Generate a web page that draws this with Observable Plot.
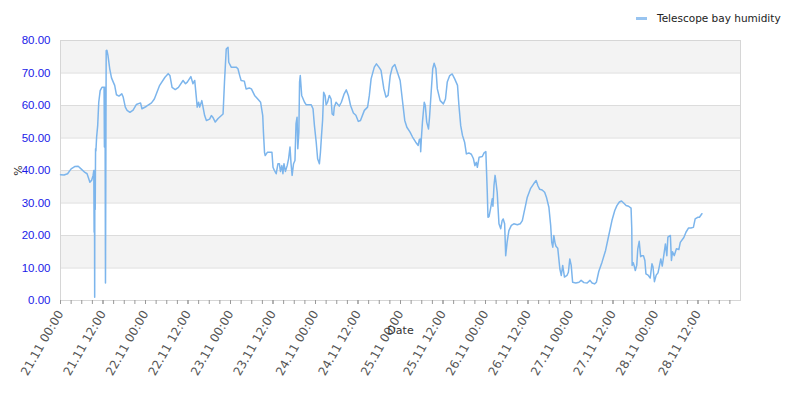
<!DOCTYPE html>
<html>
<head>
<meta charset="utf-8">
<script src="https://cdn.jsdelivr.net/npm/d3@7"></script>
<script src="https://cdn.jsdelivr.net/npm/@observablehq/plot@0.6"></script>
<style>
  html, body { margin: 0; padding: 0; background: #fff; }
  #wrap { position: relative; width: 800px; height: 400px; font-family: "DejaVu Sans", sans-serif; }
  #legend { position: absolute; top: 12px; left: 636px; font-size: 10.5px; color: #222; display: flex; align-items: center; }
  #legend .sw { width: 11px; height: 3px; background: #98c4f0; margin-right: 10px; }
  g[aria-label="y-axis label"], g[aria-label="x-axis label"] { fill: #333; }
  g[aria-label="y-axis label"] text, g[aria-label="x-axis label"] text { fill: #333; font-size: 11px; font-family: "DejaVu Sans", sans-serif; }
</style>
</head>
<body>
<div id="wrap">
  <div id="chart"></div>
  <div id="legend"><span class="sw"></span><span>Telescope bay humidity</span></div>
</div>
<script>
// Series: hours since 21.11 00:00 and humidity in %
const seriesName = "Telescope bay humidity";
const hours = [
  0,1,2,3,4,5,5.8,6.9,7.5,8,
  8.3,8.8,9.2,9.4,9.5,9.55,9.6,9.65,9.7,9.8,
  9.9,10,10.2,10.5,10.8,11.2,11.7,12.3,12.4,12.5,
  12.6,12.7,12.8,12.9,13.1,13.4,13.9,14.4,14.9,15.3,
  15.8,16.5,17.3,17.7,18.3,18.8,19.6,20.5,21.4,22.6,
  23,24.2,25.7,26.5,28,29.5,30.4,30.9,31.5,32.4,
  33.3,34.6,35.3,35.8,36.8,37.4,37.9,38.3,38.6,39,
  39.3,39.9,40.7,41.2,42.1,42.6,43,43.7,44.5,45.9,
  46.3,46.8,47.3,47.5,48.2,49.6,50.1,50.6,51,51.9,
  52.4,53.3,53.9,54.8,55.7,56.5,57.1,57.3,57.6,57.8,
  58.4,59.7,60,60.4,60.9,61.4,61.8,62.1,62.5,62.8,
  63.1,63.5,64,64.4,64.8,65.1,65.4,65.8,66.2,66.5,
  66.8,67,67.3,67.5,67.7,68.1,68.9,69.4,70.8,71.3,
  71.7,72.2,72.6,73.1,73.4,73.7,74,74.3,74.7,75,
  75.4,75.9,76.4,76.7,77.1,77.3,77.8,78.7,79.3,80.1,
  80.7,81.3,81.9,82.7,83.4,84.1,84.7,85.8,86.7,87.2,
  87.7,88.6,89.2,89.9,90.5,91.3,91.9,92.5,93.1,93.7,
  94.4,95.1,95.9,96.5,97.2,97.8,98.7,99.4,100.3,101,
  101.3,101.6,101.7,101.9,102.2,102.7,103,103.4,103.9,104.2,
  104.6,105.1,105.5,106,106.4,107.2,108.1,108.7,109.2,109.9,
  110.6,111.3,112.1,112.5,113,113.5,114.1,114.6,115.3,116,
  116.6,117,117.4,117.7,118.2,119.1,119.6,120.1,120.3,120.5,
  120.7,121,121.5,121.9,122.1,122.4,122.7,122.9,123.3,123.8,
  124.3,124.7,125,125.4,125.7,126.1,126.6,127.3,128,129,
  129.8,130.4,130.9,131.3,131.8,132.7,133.6,134.3,134.8,135.3,
  136,136.7,137.2,137.9,138.4,138.7,139,139.3,139.6,139.9,
  140.4,141,141.4,141.8,142.3,143,143.4,143.8,144.2,144.6,
  145.5,146.4,147,147.8,148.7,149.5,150.1,150.8,151.3,152,
  152.9,153.9,154.8,155.7,156.5,157.1,157.8,158.4,159,159.7,
  160.4,161.1,161.3,161.4,161.7,162,162.3,162.7,163,163.4,
  163.8,164.2,164.6,165,165.3,165.9,166.5,167,167.3,167.7,
  168.2,168.7,169.1,169.5,169.9,170.2,170.8,171.2,171.5,172.2,
  172.5,172.8,173.3,173.9,174.6,175,176,176.6,177.3,178,
  178.7,179.2,179.9,180.4,181.1
];
const humidity = [
  38.7,38.6,39.0,40.5,41.2,41.3,40.5,39.4,39.0,37.4,
  36.4,37.0,38.5,40.0,21.0,40.0,28.0,1.0,40.0,28.0,
  46.7,46.0,50.3,53.8,61.0,64.6,65.6,65.6,47.2,65.6,
  50.0,5.4,41.0,76.9,77.0,75.4,71.3,68.5,67.2,66.2,
  63.3,62.9,63.6,62.6,59.5,58.5,57.9,58.6,60.3,60.8,
  59.0,59.7,60.8,62.0,66.2,68.7,69.8,69.2,65.6,64.9,
  65.6,67.7,66.7,67.2,68.9,66.7,67.7,63.1,59.5,61.0,
  59.5,61.5,56.9,55.4,55.8,56.9,56.4,54.9,56.0,57.4,
  67.2,77.4,77.9,73.3,71.8,71.8,71.3,69.2,67.7,67.5,
  65.1,65.4,65.1,63.1,62.0,61.0,56.9,51.8,45.6,44.6,
  45.6,45.6,41.0,40.0,39.0,42.1,42.1,39.7,41.5,39.0,
  42.1,39.7,41.5,43.6,47.2,42.0,38.5,42.1,43.1,54.4,
  56.4,46.7,51.8,67.2,69.2,63.1,61.0,60.2,60.2,59.0,
  53.8,48.7,43.6,42.1,45.6,50.8,55.4,64.1,63.1,60.2,
  61.0,63.1,62.0,57.4,57.0,59.5,61.0,59.8,61.0,63.6,
  64.8,63.0,60.0,57.7,57.0,55.1,55.4,58.5,59.5,63.1,
  68.2,71.8,72.8,71.8,70.8,65.1,62.6,63.1,69.2,71.8,
  72.6,70.3,67.7,62.0,55.4,53.3,51.8,50.3,48.7,47.7,
  49.5,49.7,45.8,50.0,54.9,61.0,60.0,54.9,52.8,56.4,
  63.1,71.3,73.0,71.3,65.1,61.5,60.5,62.0,67.2,69.2,
  69.7,68.2,66.2,60.0,53.8,50.8,48.7,45.1,45.4,45.0,
  43.6,41.5,42.5,41.0,44.1,44.3,45.4,45.8,39.5,33.3,
  25.6,25.8,28.7,31.3,29.0,35.4,38.5,37.0,33.3,23.6,
  22.1,24.6,25.1,23.6,13.8,17.9,21.5,23.1,23.6,23.3,
  23.6,24.6,27.2,29.2,31.8,34.4,35.9,36.9,35.3,34.2,
  34.0,33.3,31.8,28.7,23.1,17.9,16.4,20.0,17.9,16.7,
  16.1,9.7,7.7,10.8,7.2,7.7,8.7,12.8,10.8,5.6,
  5.4,5.6,6.2,5.5,5.4,6.2,5.4,5.1,5.6,9.0,
  11.8,15.4,20.0,24.6,27.7,29.2,30.3,30.6,30.0,29.2,
  29.0,28.4,22.1,10.8,11.6,10.6,9.2,10.8,15.9,18.2,
  13.5,13.8,13.8,12.3,8.2,7.8,6.9,11.3,10.3,5.8,
  7.8,8.5,10.6,12.8,10.6,12.8,17.4,13.8,19.5,20.0,
  12.3,15.0,13.8,15.9,15.7,17.9,19.4,21.0,22.3,22.3,
  22.5,25.1,25.6,25.6,26.7
];
// Axes
const yTicks = [0,10,20,30,40,50,60,70,80];
const bandLows = [70,50,30,10];
const majorTickHours = [0,12,24,36,48,60,72,84,96,108,120,132,144,156,168,180];
const minorTickHours = d3.range(0, 190, 3);
const domainHours = [0, 192];

const start = new Date(2017, 10, 21, 0, 0);
const toDate = h => new Date(start.getTime() + h * 3600e3);
const data = hours.map((h, i) => ({date: toDate(h), value: humidity[i]}));
const fmt = d3.timeFormat("%d.%m %H:%M");

const chart = Plot.plot({
  width: 800,
  height: 400,
  marginLeft: 60,
  marginRight: 60,
  marginTop: 40,
  marginBottom: 100,
  style: {fontFamily: "DejaVu Sans, sans-serif", fontSize: "11px", background: "#fff"},
  x: {type: "time", domain: domainHours.map(toDate)},
  y: {domain: [0, 80]},
  marks: [
    Plot.rect(bandLows, {y1: d => d, y2: d => d + 10, fill: "#f3f3f3"}),
    Plot.gridY(yTicks, {stroke: "#dcdcdc", strokeOpacity: 1}),
    Plot.frame({stroke: "#d6d6d6"}),
    Plot.line(data, {x: "date", y: "value", stroke: "#7cb5ec", strokeWidth: 1.5}),
    Plot.axisY(yTicks, {tickSize: 0, tickPadding: 10, tickFormat: d => d.toFixed(2), fill: "#1a1ae8",
      fontSize: 11.5, fontFamily: "Liberation Sans, Arial, sans-serif",
      label: "%", labelAnchor: "center", labelOffset: 46, labelArrow: "none"}),
    Plot.axisX(minorTickHours.map(toDate), {tickSize: 4, tickFormat: () => "", stroke: "#999", label: null}),
    Plot.axisX(majorTickHours.map(toDate), {tickSize: 4, stroke: "#999", tickRotate: -60, tickFormat: fmt, fill: "#555", fontSize: 12,
      label: "Date", labelAnchor: "center", labelOffset: 33, labelArrow: "none"})
  ]
});
document.getElementById("chart").appendChild(chart);
</script>
</body>
</html>
